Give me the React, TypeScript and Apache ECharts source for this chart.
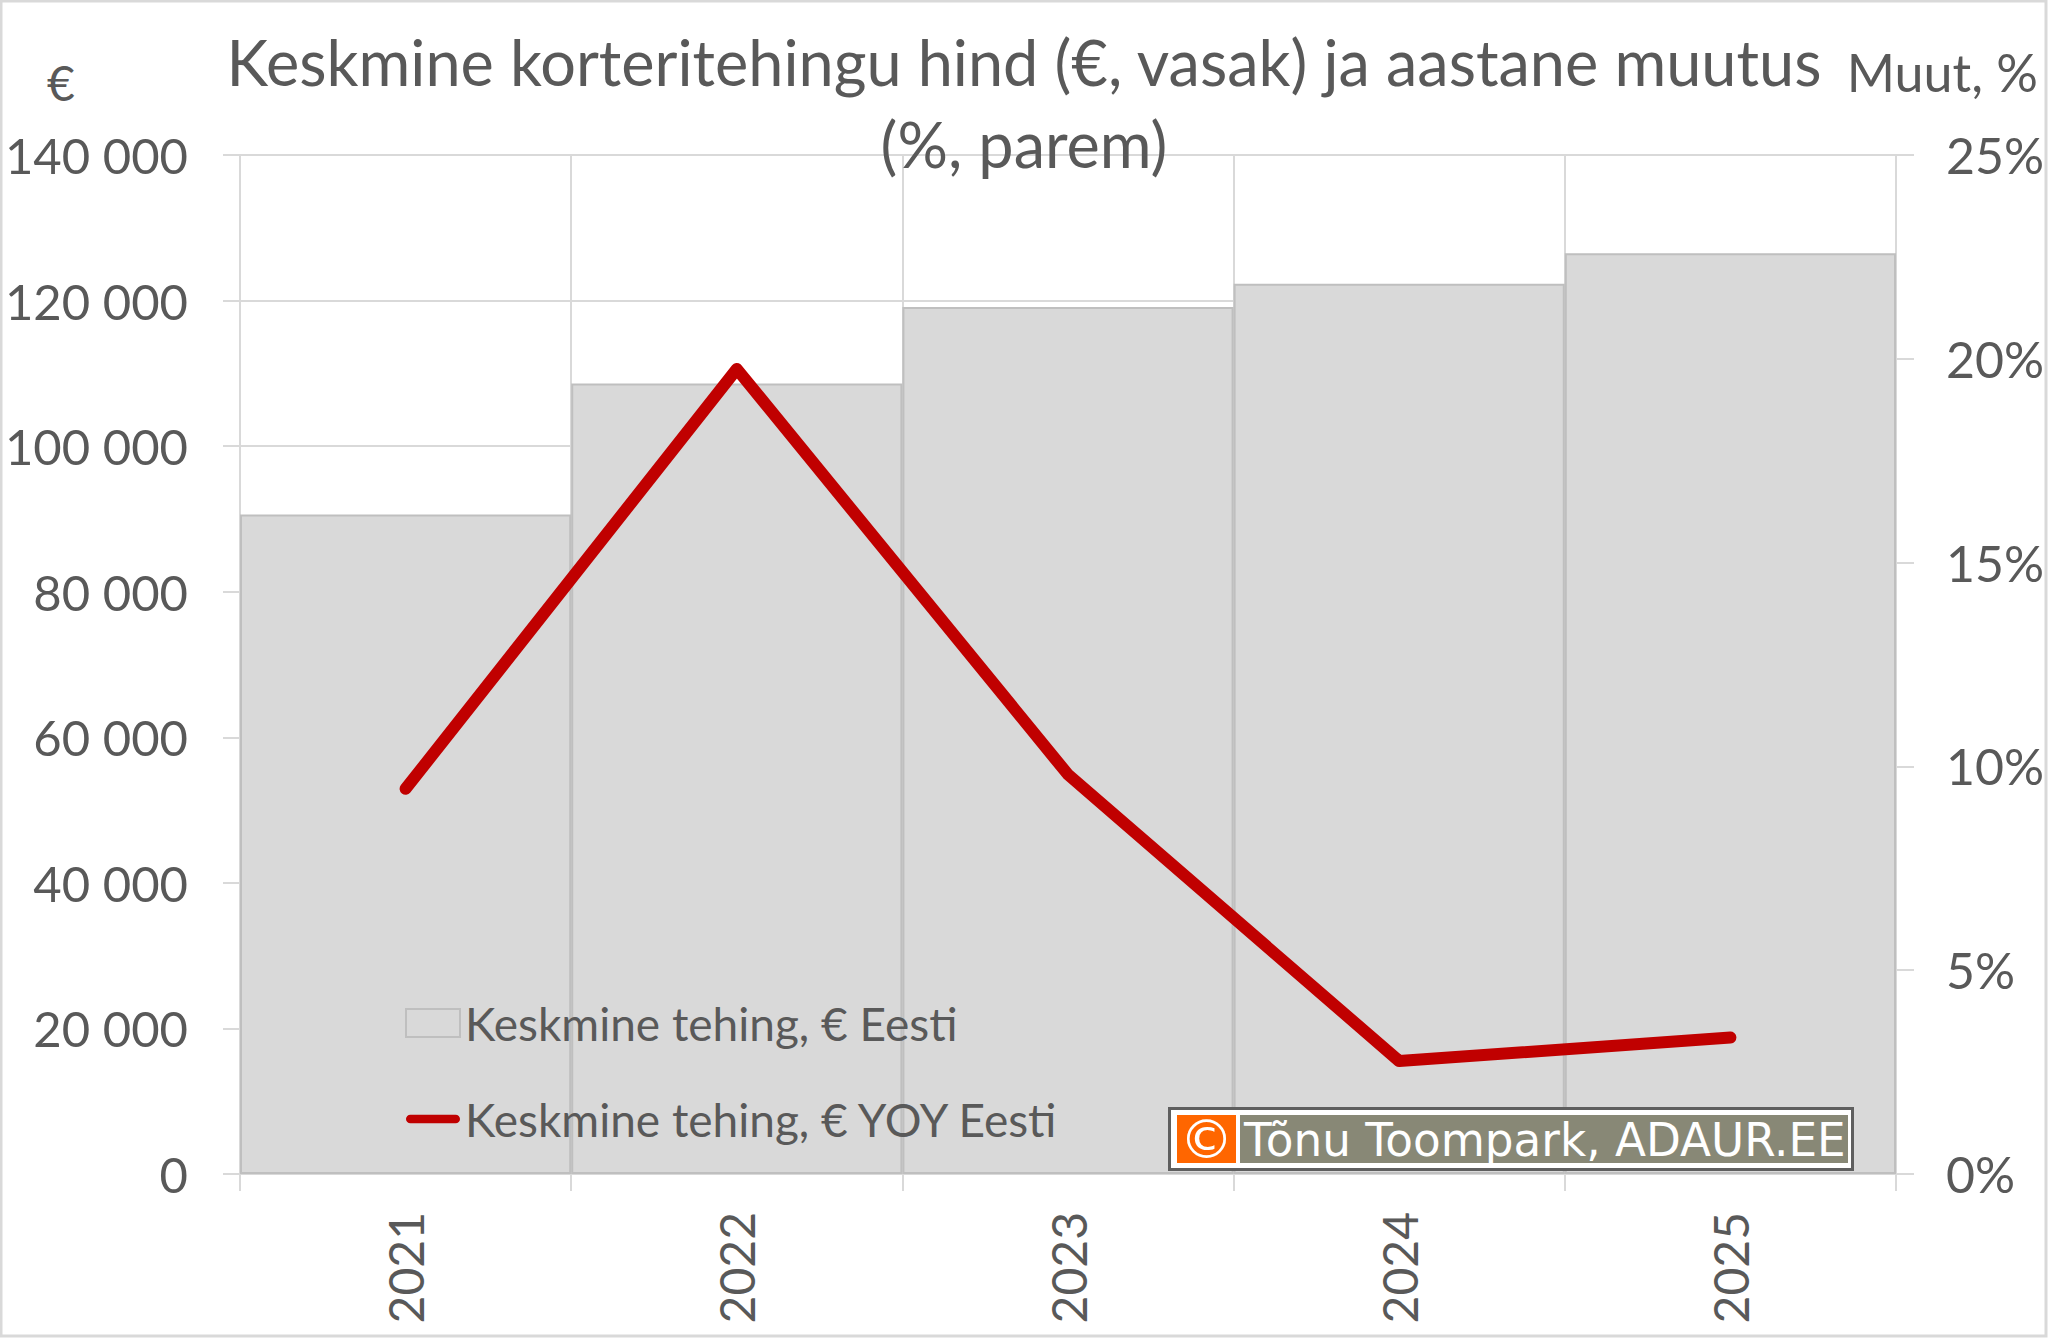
import React, { useEffect, useRef } from 'react';
import * as echarts from 'echarts';

const years = ['2021', '2022', '2023', '2024', '2025'];
const avgPrice = [90600, 108600, 119100, 122300, 126500];
const yoyChange = [9.45, 19.75, 9.8, 2.77, 3.35];
const titleText = 'Keskmine korteritehingu hind (€, vasak) ja aastane muutus\n(%, parem)';
const barName = 'Keskmine tehing, € Eesti';
const lineName = 'Keskmine tehing, € YOY Eesti';
const leftUnit = '€';
const rightUnit = 'Muut, %';
const watermark = 'Tõnu Toompark, ADAUR.EE';

const FONT = 'Lato';
const TXT = '#595959';
const GRID = '#d9d9d9';

export default function App() {
  const ref = useRef<HTMLDivElement>(null);
  useEffect(() => {
    document.body.style.margin = '0';
    const chart = echarts.init(ref.current!, null, { renderer: 'svg' });
    const fmtThousands = (v: number) => String(v).replace(/\B(?=(\d{3})+(?!\d))/g, ' ');
    chart.setOption({
      animation: false,
      backgroundColor: '#ffffff',
      title: {
        text: titleText,
        left: 'center',
        top: 15,
        textStyle: { fontFamily: FONT, fontSize: 63, fontWeight: 'normal', color: TXT, lineHeight: 82 },
      },
      legend: {
        orient: 'vertical',
        left: 405,
        top: 1000,
        itemWidth: 54,
        itemHeight: 28,
        itemGap: 50,
        padding: 0,
        textStyle: { fontFamily: FONT, fontSize: 46, color: TXT },
        data: [
          { name: barName, icon: 'rect', itemStyle: { color: '#d9d9d9', borderColor: '#bfbfbf', borderWidth: 2 } },
          {
            name: lineName,
            icon: 'path://M5,0 L57,0 A5,5 0 0 1 57,10 L5,10 A5,5 0 0 1 5,0 Z',
            itemStyle: { color: '#c00000', borderWidth: 0 },
          },
        ],
      },
      grid: { left: 240, right: 152, top: 155, bottom: 164, containLabel: false, outerBoundsMode: 'none' },
      xAxis: {
        type: 'category',
        data: years,
        boundaryGap: true,
        axisLine: { show: true, lineStyle: { color: GRID, width: 2 } },
        axisTick: { show: true, length: 17, lineStyle: { color: GRID, width: 2 } },
        splitLine: { show: true, lineStyle: { color: GRID, width: 2 } },
        axisLabel: { rotate: 90, margin: 38, fontFamily: FONT, fontSize: 48, color: TXT },
      },
      yAxis: [
        {
          type: 'value',
          min: 0,
          max: 140000,
          interval: 20000,
          axisLine: { show: true, lineStyle: { color: GRID, width: 2 } },
          axisTick: { show: true, length: 17, lineStyle: { color: GRID, width: 2 } },
          splitLine: { show: true, lineStyle: { color: GRID, width: 2 } },
          axisLabel: { margin: 52, fontFamily: FONT, fontSize: 49, color: TXT, formatter: (v: number) => fmtThousands(v) },
        },
        {
          type: 'value',
          position: 'right',
          min: 0,
          max: 25,
          interval: 5,
          axisLine: { show: true, lineStyle: { color: GRID, width: 2 } },
          axisTick: { show: true, length: 18, lineStyle: { color: GRID, width: 2 } },
          splitLine: { show: false },
          axisLabel: { margin: 50, fontFamily: FONT, fontSize: 50, color: TXT, formatter: '{value}%' },
        },
      ],
      series: [
        {
          name: barName,
          type: 'bar',
          data: avgPrice,
          barCategoryGap: '0%',
          itemStyle: { color: '#d9d9d9', borderColor: '#bfbfbf', borderWidth: 2 },
          z: 2,
        },
        {
          name: lineName,
          type: 'line',
          yAxisIndex: 1,
          data: yoyChange,
          symbol: 'none',
          color: '#c00000',
          lineStyle: { color: '#c00000', width: 12, cap: 'round', join: 'round' },
          z: 3,
        },
      ],
      graphic: [
        {
          type: 'rect',
          shape: { x: 1, y: 1, width: 2045, height: 1335 },
          style: { fill: 'none', stroke: '#d9d9d9', lineWidth: 3 },
          silent: true,
          z: 100,
        },
        {
          type: 'text',
          x: 61,
          y: 82,
          z: 100,
          style: { text: leftUnit, fontFamily: FONT, fontSize: 48, fill: TXT, align: 'center', verticalAlign: 'middle' },
        },
        {
          type: 'text',
          x: 2038,
          y: 72,
          z: 100,
          style: { text: rightUnit, fontFamily: FONT, fontSize: 52, fill: TXT, align: 'right', verticalAlign: 'middle' },
        },
        {
          type: 'rect',
          z: 100,
          shape: { x: 1169.5, y: 1108.5, width: 683, height: 61 },
          style: { fill: '#ffffff', stroke: '#5f5f5f', lineWidth: 3 },
        },
        { type: 'rect', z: 101, shape: { x: 1177, y: 1115, width: 59, height: 48 }, style: { fill: '#ff6600' } },
        { type: 'rect', z: 101, shape: { x: 1240, y: 1115, width: 608, height: 48 }, style: { fill: '#888876' } },
        {
          type: 'text',
          z: 102,
          x: 1206.5,
          y: 1139,
          style: { text: '©', fontFamily: 'DejaVu Sans', fontSize: 54, fill: '#ffffff', align: 'center', verticalAlign: 'middle' },
        },
        {
          type: 'text',
          z: 102,
          x: 1244,
          y: 1140,
          style: { text: watermark, fontFamily: 'DejaVu Sans', fontSize: 45.3, fill: '#ffffff', align: 'left', verticalAlign: 'middle' },
        },
      ],
    });
    return () => chart.dispose();
  }, []);
  return <div ref={ref} style={{ width: 2048, height: 1338 }} />;
}
